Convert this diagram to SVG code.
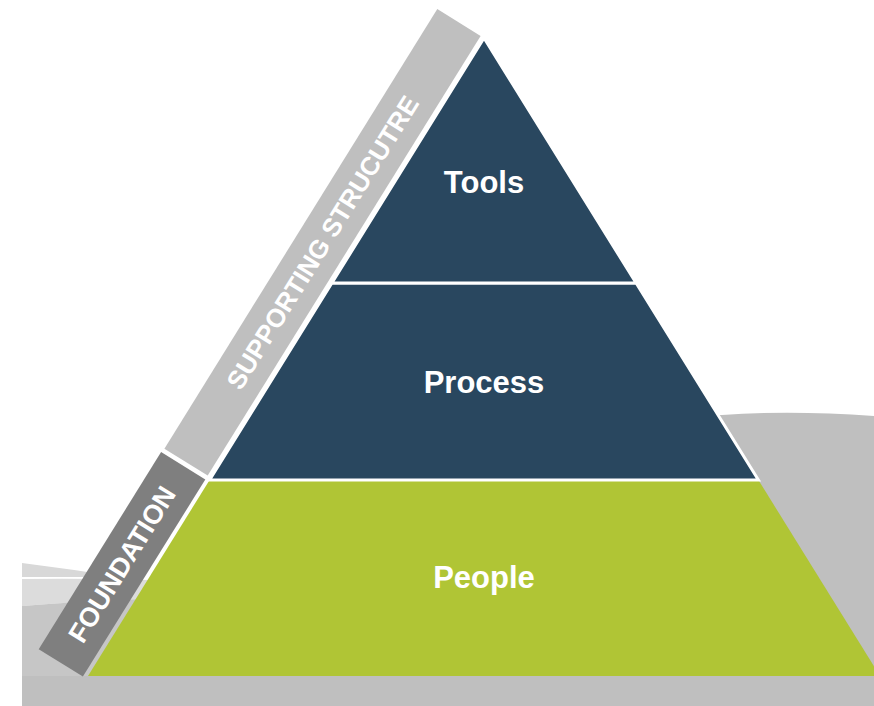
<svg xmlns="http://www.w3.org/2000/svg" width="874" height="706" viewBox="0 0 874 706">
  <style>
    .bg { fill: #bfbfbf; }
    .navy { fill: #29475f; stroke: #ffffff; stroke-width: 3; stroke-linejoin: miter; }
    .green { fill: #b0c535; }
    .lbl { font-family: "Liberation Sans", Arial, sans-serif; font-weight: bold; font-size: 31px; fill: #ffffff; text-anchor: middle; }
    .bar-lbl { font-family: "Liberation Sans", Arial, sans-serif; font-weight: bold; font-size: 26px; fill: #ffffff; text-anchor: middle; }
  </style>
  <rect x="0" y="0" width="874" height="706" fill="#ffffff"/>
  <g id="background">
    <path class="bg" d="M722 415 Q 790 410 874 416 L874 706 L600 706 L600 415 Z"/>
    <rect class="bg" x="22" y="676" width="852" height="30"/>
    <path fill="#d8d8d8" d="M22 563 Q 70 569 120 577 L22 577 Z"/>
    <path fill="#dcdcdc" d="M22 579 Q 80 578 150 580 L150 600 Q 80 601 22 606 Z"/>
    <path fill="#c6c6c6" d="M22 606 Q 80 601 150 599 L150 676 L22 676 Z"/>
  </g>
  <g id="bar-supporting">
    <polygon fill="#bfbfbf" points="437.3,9 480.6,35.9 207.7,475.6 164.4,448.7"/>
    <text class="bar-lbl" transform="translate(322.4,242.3) rotate(-58.17)" x="0" y="9.3">SUPPORTING STRUCUTRE</text>
  </g>
  <g id="bar-foundation">
    <polygon fill="#7f7f7f" points="161.1,452 205.3,479.4 82.9,676.6 38.7,649.2"/>
    <text class="bar-lbl" transform="translate(122,564.3) rotate(-58.17)" x="0" y="9.3" style="font-size:27px">FOUNDATION</text>
  </g>
  <g id="people">
    <polygon class="green" points="209.6,480 758.4,480 880,676 88,676"/>
    <text class="lbl" x="484" y="588">People</text>
  </g>
  <g id="process">
    <polygon class="navy" points="331.9,283 636.1,283 758.4,480 209.6,480"/>
    <text class="lbl" x="484" y="393">Process</text>
  </g>
  <g id="tools">
    <polygon class="navy" points="484,38 636.1,283 331.9,283"/>
    <text class="lbl" x="484" y="193">Tools</text>
  </g>
  <g id="connectors"/>
</svg>
